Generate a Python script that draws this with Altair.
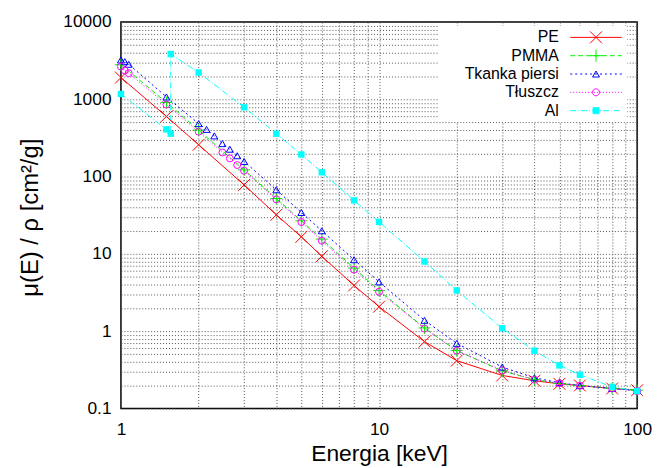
import math
import altair as alt
import pandas as pd

# ---------------- data ----------------
SERIES = ["PE", "PMMA", "Tkanka piersi", "Tłuszcz", "Al"]
COLORS = ["#ff0000", "#00ee00", "#0000ff", "#ff00ff", "#00ffff"]

E_PE = [1, 1.5, 2, 3, 4, 5, 6, 8, 10, 15, 20, 30, 40, 50, 60, 80, 100]
MU_PE = [1910, 600, 258, 78, 32, 16.6, 9.3, 3.9, 2.07, 0.73, 0.415, 0.267, 0.228,
         0.208, 0.198, 0.181, 0.172]

E_PMMA = [1, 1.5, 2, 3, 4, 5, 6, 8, 10, 15, 20, 30, 40, 50, 60, 80, 100]
MU_PMMA = [2800, 910, 400, 122, 52, 26.8, 15.5, 6.55, 3.35, 1.10, 0.56, 0.305, 0.236,
           0.21, 0.197, 0.182, 0.172]

E_BREAST = [1, 1.035, 1.072, 1.5, 2, 2.146, 2.3, 2.472, 2.641, 2.822, 3, 4, 5, 6, 8,
            10, 15, 20, 30, 40, 50, 60, 80, 100]
MU_BREAST = [3230, 3070, 2840, 1072, 484, 408, 336, 267, 226, 186, 157, 67.4, 34.3,
             19.9, 8.4, 4.34, 1.38, 0.695, 0.343, 0.249, 0.215, 0.197, 0.181, 0.170]

E_FAT = [1, 1.035, 1.072, 1.5, 2, 2.472, 2.641, 2.822, 3, 4, 5, 6, 8, 10, 15, 20, 30,
         40, 50, 60, 80, 100]
MU_FAT = [2650, 2355, 2175, 855, 381, 205, 172, 141, 119, 50.7, 25.8, 14.8, 6.24, 3.23,
          1.08, 0.559, 0.311, 0.235, 0.212, 0.197, 0.181, 0.168]

E_AL = [1, 1.5, 1.5596, 1.5596, 2, 3, 4, 5, 6, 8, 10, 15, 20, 30, 40, 50, 60, 80, 100]
MU_AL = [1170, 408, 359, 3850, 2220, 788, 359, 193, 113.5, 49.2, 25.9, 7.96, 3.36, 1.09,
         0.558, 0.36, 0.273, 0.19, 0.168]

X_TICKS = [1, 2, 3, 4, 5, 6, 7, 8, 9, 10, 20, 30, 40, 50, 60, 70, 80, 90, 100]
Y_TICKS = [0.1, 0.2, 0.3, 0.4, 0.5, 0.6, 0.7, 0.8, 0.9,
           1, 2, 3, 4, 5, 6, 7, 8, 9,
           10, 20, 30, 40, 50, 60, 70, 80, 90,
           100, 200, 300, 400, 500, 600, 700, 800, 900,
           1000, 2000, 3000, 4000, 5000, 6000, 7000, 8000, 9000, 10000]

# ---------------- table ----------------
rows = []
for name, es, mus in [("PE", E_PE, MU_PE), ("PMMA", E_PMMA, MU_PMMA),
                      ("Tkanka piersi", E_BREAST, MU_BREAST),
                      ("Tłuszcz", E_FAT, MU_FAT), ("Al", E_AL, MU_AL)]:
    for i, (e, m) in enumerate(zip(es, mus)):
        rows.append({"series": name, "E": e, "mu": m, "idx": i})
df = pd.DataFrame(rows)

# ---------------- styles ----------------
DASHES = [None, [5, 3], [2, 3], [1, 2], [6, 2, 1, 2]]
FONT = "Liberation Sans"

# legend symbol geometry (custom paths, unit = sqrt(size)/2 px)
LEG_SIZE = 256
U = math.sqrt(LEG_SIZE) / 2
LX0, LX1, LCM = 15.25, 21.75, 18.5


def seg_path(x0, x1, pattern):
    if pattern is None:
        return f"M{x0:.3f},0L{x1:.3f},0"
    parts, x, i, on = [], x0, 0, True
    while x < x1 - 1e-6:
        step = pattern[i % len(pattern)] / U
        if on:
            parts.append(f"M{x:.3f},0L{min(x + step, x1):.3f},0")
        x += step
        on = not on
        i += 1
    return "".join(parts)


a = 6 / U
r = 3.5 / U
h = 0.866 * r
s = 3 / U
LEG_MARKERS = [
    f"M{LCM-a:.3f},{-a:.3f}L{LCM+a:.3f},{a:.3f}M{LCM-a:.3f},{a:.3f}L{LCM+a:.3f},{-a:.3f}",
    f"M{LCM-a:.3f},0L{LCM+a:.3f},0M{LCM:.3f},{-a:.3f}L{LCM:.3f},{a:.3f}",
    f"M{LCM:.3f},{-h:.3f}L{LCM-r:.3f},{h:.3f}L{LCM+r:.3f},{h:.3f}Z",
    f"M{LCM-r:.3f},0A{r:.3f},{r:.3f},0,1,0,{LCM+r:.3f},0A{r:.3f},{r:.3f},0,1,0,{LCM-r:.3f},0Z",
    f"M{LCM-s:.3f},{-s:.3f}L{LCM+s:.3f},{-s:.3f}L{LCM+s:.3f},{s:.3f}L{LCM-s:.3f},{s:.3f}Z",
]
LEG_SHAPES = [seg_path(LX0, LX1, d) + m for d, m in zip(DASHES, LEG_MARKERS)]

stroke_scale = alt.Scale(domain=SERIES, range=COLORS)
fill_scale = alt.Scale(domain=SERIES, range=["transparent"] * 4 + [COLORS[4]])
shape_scale = alt.Scale(domain=SERIES, range=LEG_SHAPES)

decade = "abs(log(datum.value)/LN10 - round(log(datum.value)/LN10)) < 0.001"
label_expr = f"{decade} ? (datum.value < 1 ? format(datum.value, '.1f') : format(datum.value, 'd')) : ''"

common_axis = dict(grid=True, gridColor="#555555", gridDash=[1, 2], gridWidth=1,
                   gridOpacity=1, ticks=False, domain=False, labelFont=FONT,
                   labelFontSize=17.5, labelColor="black", labelFlush=False,
                   labelOverlap=False, labelExpr=label_expr, titleFont=FONT,
                   titleFontWeight="normal", titleColor="black")

x_enc = alt.X("E:Q", scale=alt.Scale(type="log", domain=[1, 100], nice=False),
              axis=alt.Axis(values=X_TICKS, labelPadding=12, title="Energia [keV]",
                            titleFontSize=23, titleY=53, titleBaseline="alphabetic",
                            **common_axis))
y_enc = alt.Y("mu:Q", scale=alt.Scale(type="log", domain=[0.1, 10000], nice=False),
              axis=alt.Axis(values=Y_TICKS, labelPadding=10, title="μ(E) / ρ [cm²/g]",
                            titleFontSize=24, titleAngle=270, titleX=-84, titleY=197,
                            titleBaseline="alphabetic", titleAlign="center",
                            **common_axis))

base = alt.Chart(df)

MARKERS = [("M-1,-1L1,1M-1,1L1,-1", 144, False),
           ("M-1,0L1,0M0,-1L0,1", 144, False),
           ("triangle-up", 49, False),
           ("circle", 49, False),
           ("square", 42, True)]

line_layers = []
point_layers = []
for name, color, dash, (shape, size, filled) in zip(SERIES, COLORS, DASHES, MARKERS):
    sub = base.transform_filter(alt.datum.series == name)
    line_kw = dict(stroke=color, strokeWidth=1, clip=True)
    if dash:
        line_kw["strokeDash"] = dash
    line_layers.append(sub.mark_line(**line_kw).encode(x=x_enc, y=y_enc, order="idx:Q"))
    point_layers.append(
        sub.mark_point(shape=shape, size=size, filled=filled, color=color, opacity=1,
                       strokeWidth=1).encode(x=x_enc, y=y_enc)
    )

leg = alt.Legend(orient="none", legendX=320, legendY=4, title=None, fillColor="white",
                 padding=3, labelFont=FONT, labelFontSize=16, labelColor="black",
                 labelAlign="right", labelOffset=102, labelLimit=300,
                 symbolSize=LEG_SIZE, symbolStrokeWidth=1, rowPadding=1.5)

legend_layer = base.transform_filter("false").mark_point(opacity=1, strokeWidth=1).encode(
    stroke=alt.Stroke("series:N", scale=stroke_scale, legend=leg),
    fill=alt.Fill("series:N", scale=fill_scale, legend=leg),
    shape=alt.Shape("series:N", scale=shape_scale, legend=leg),
)

chart = alt.layer(*line_layers, *point_layers, legend_layer).properties(
    width=521, height=390,
    autosize=alt.AutoSizeParams(type="none"),
    padding={"left": 114, "top": 12, "right": 16, "bottom": 58},
).configure_view(stroke="black", strokeWidth=1.5)

chart.save("out.html", embed_options={"renderer": "svg", "actions": False})
